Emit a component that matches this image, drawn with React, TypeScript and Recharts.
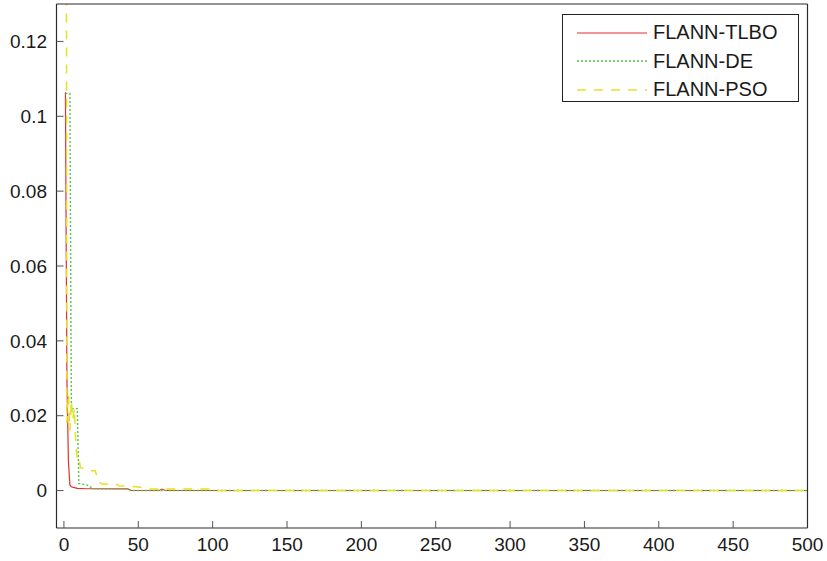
import { LineChart, Line, XAxis, YAxis } from 'recharts';

// iteration ticks and error ticks
const xTicks = [0, 50, 100, 150, 200, 250, 300, 350, 400, 450, 500];
const yTicks = [0, 0.02, 0.04, 0.06, 0.08, 0.1, 0.12];

// FLANN-TLBO
const tlboIter = [1, 2, 3, 4, 5, 7, 9, 15, 43, 45, 64, 66, 68, 500];
const tlboVal = [0.1064, 0.03, 0.008, 0.0015, 0.001, 0.0008, 0.0006, 0.00048, 0.00045, 0.00002, 0.00002, 0.0004, 0.00002, 0.00002];

// FLANN-DE
const deIter = [1, 4, 5, 9, 10, 12, 16, 18, 20, 43, 45, 500];
const deVal = [0.1061, 0.1061, 0.0219, 0.0219, 0.0019, 0.0017, 0.0014, 0.0009, 0.00047, 0.00045, 0.00002, 0.00002];

// FLANN-PSO
const psoIter = [1, 2, 3, 4, 5, 6, 7, 8, 9, 10, 11, 16, 21, 23, 25, 28, 35, 37, 41, 47, 51, 53, 58, 101, 104, 500];
const psoVal = [0.4, 0.018, 0.026, 0.016, 0.024, 0.019, 0.022, 0.012, 0.0085, 0.009, 0.0062, 0.0053, 0.0053, 0.003, 0.0018, 0.0017, 0.0018, 0.0013, 0.0012, 0.0011, 0.0009, 0.0008, 0.0004, 0.00045, 0.00004, 0.00004];

const toPoints = (xs: number[], ys: number[]) => xs.map((x, i) => ({ x, y: ys[i] }));

const series = [
  { name: 'FLANN-TLBO', color: '#e2302c', dash: undefined as string | undefined, width: 1.2, data: toPoints(tlboIter, tlboVal) },
  { name: 'FLANN-DE', color: '#4fc94a', dash: '2 2', width: 1.4, data: toPoints(deIter, deVal) },
  { name: 'FLANN-PSO', color: '#e8df24', dash: '9 8', width: 1.5, data: toPoints(psoIter, psoVal) },
];

const font = '"Liberation Sans", Arial, Helvetica, sans-serif';
const tickStyle = { fill: '#1a1a1a', fontSize: 19, fontFamily: font };
const axisColor = '#2b2b2b';

export default function App() {
  return (
    <div style={{ position: 'absolute', left: 0, top: 0, width: 827, height: 561, background: '#fff' }}>
      <LineChart width={827} height={561} margin={{ top: 3, right: 18.5, bottom: 0, left: 0 }}>
        <XAxis
          dataKey="x"
          type="number"
          domain={[-5, 500]}
          ticks={xTicks}
          allowDataOverflow
          height={33}
          tickSize={-7}
          tickMargin={17}
          tick={tickStyle}
          axisLine={{ stroke: axisColor, strokeWidth: 1.2 }}
          tickLine={{ stroke: '#555' }}
        />
        <XAxis
          xAxisId="top"
          orientation="top"
          dataKey="x"
          type="number"
          domain={[-5, 500]}
          ticks={xTicks}
          allowDataOverflow
          height={1}
          tickSize={-7}
          tick={false}
          axisLine={{ stroke: axisColor, strokeWidth: 1.2 }}
          tickLine={{ stroke: '#555' }}
        />
        <YAxis
          type="number"
          domain={[-0.01, 0.13]}
          ticks={yTicks}
          allowDataOverflow
          width={56.5}
          tickSize={-7}
          tickMargin={16.5}
          tick={tickStyle}
          tickFormatter={(v: number) => String(v)}
          axisLine={{ stroke: axisColor, strokeWidth: 1.2 }}
          tickLine={{ stroke: '#555' }}
        />
        <YAxis
          yAxisId="right"
          orientation="right"
          type="number"
          domain={[-0.01, 0.13]}
          ticks={yTicks}
          allowDataOverflow
          width={1}
          tickSize={-7}
          tick={false}
          axisLine={{ stroke: axisColor, strokeWidth: 1.2 }}
          tickLine={{ stroke: '#555' }}
        />
        {series.map((s) => (
          <Line
            key={s.name}
            data={s.data}
            dataKey="y"
            name={s.name}
            type="linear"
            stroke={s.color}
            strokeWidth={s.width}
            strokeDasharray={s.dash}
            dot={false}
            activeDot={false}
            isAnimationActive={false}
          />
        ))}
      </LineChart>

      {/* legend box */}
      <div
        style={{
          position: 'absolute',
          left: 562,
          top: 14,
          width: 237,
          height: 88,
          boxSizing: 'border-box',
          border: '1.2px solid #222',
          background: '#fff',
          fontFamily: font,
          fontSize: 20,
          color: '#1a1a1a',
        }}
      >
        {series.map((s, i) => (
          <div
            key={s.name}
            style={{ position: 'absolute', left: 0, top: 3.5 + i * 28.5, height: 28, display: 'flex', alignItems: 'center' }}
          >
            <svg width={90} height={28} style={{ display: 'block' }}>
              <line x1={14} x2={84} y1={14} y2={14} stroke={s.color} strokeWidth={s.width} strokeDasharray={s.dash} />
            </svg>
            <span style={{ whiteSpace: 'nowrap' }}>{s.name}</span>
          </div>
        ))}
      </div>
    </div>
  );
}
